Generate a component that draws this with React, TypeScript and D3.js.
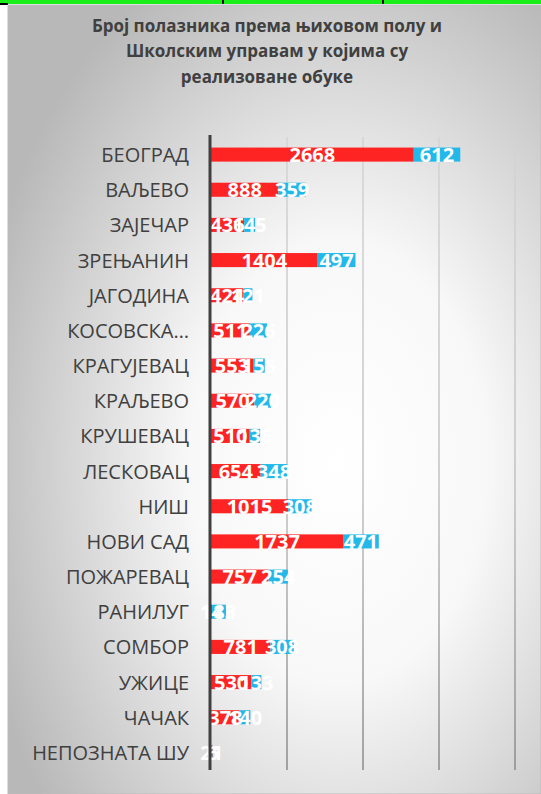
import * as d3 from "d3";

const titleLines = [
  "Број полазника према њиховом полу и",
  "Школским управам у којима су",
  "реализоване обуке",
];

const categories = [
  "БЕОГРАД",
  "ВАЉЕВО",
  "ЗАЈЕЧАР",
  "ЗРЕЊАНИН",
  "ЈАГОДИНА",
  "КОСОВСКА…",
  "КРАГУЈЕВАЦ",
  "КРАЉЕВО",
  "КРУШЕВАЦ",
  "ЛЕСКОВАЦ",
  "НИШ",
  "НОВИ САД",
  "ПОЖАРЕВАЦ",
  "РАНИЛУГ",
  "СОМБОР",
  "УЖИЦЕ",
  "ЧАЧАК",
  "НЕПОЗНАТА ШУ",
];

// red series (first segment) and blue series (second segment)
const redValues = [2668, 888, 436, 1404, 424, 511, 553, 570, 510, 654, 1015, 1737, 757, 14, 781, 530, 378, 21];
const blueValues = [612, 359, 145, 497, 121, 226, 155, 220, 136, 348, 308, 471, 254, 183, 308, 133, 140, 6];

const gridTicks = [1000, 2000, 3000, 4000];

const W = 541;
const H = 794;

export default function App() {
  const x = d3.scaleLinear().domain([0, 4000]).range([211, 515]);
  const y = d3
    .scaleBand<string>()
    .domain(categories)
    .range([137, 770])
    .paddingInner(0.6)
    .paddingOuter(0.3);
  const bw = y.bandwidth();

  const rows = categories.map((c, i) => ({
    cat: c,
    red: redValues[i],
    blue: blueValues[i],
  }));

  return (
    <div style={{ position: "fixed", left: 0, top: 0 }}>
      <svg width={W} height={H} style={{ display: "block" }}>
        <defs>
          <radialGradient id="bg" cx="0.62" cy="0.58" r="0.7">
            <stop offset="0%" stopColor="#ffffff" />
            <stop offset="40%" stopColor="#f8f8f8" />
            <stop offset="100%" stopColor="#b8b8b8" />
          </radialGradient>
          <linearGradient id="grid" gradientUnits="userSpaceOnUse" x1="0" y1="137" x2="0" y2="770">
            <stop offset="0%" stopColor="#d4d4d4" />
            <stop offset="55%" stopColor="#c2c2c2" />
            <stop offset="100%" stopColor="#8a8a8a" />
          </linearGradient>
        </defs>

        <rect x={0} y={0} width={W} height={H} fill="#ffffff" />
        {/* spreadsheet strip above the chart */}
        <rect x={0} y={0} width={W} height={4} fill="#19f019" />
        <rect x={0} y={3} width={8} height={2} fill="#000" />
        <rect x={222} y={0} width={2} height={4} fill="#000" />
        <rect x={382} y={0} width={2} height={4} fill="#000" />

        <rect x={8} y={5} width={W - 8} height={H - 5} fill="url(#bg)" stroke="#bcbcbc" strokeWidth={1} />

        {titleLines.map((t, i) => (
          <text
            key={i}
            x={267}
            y={25 + i * 25.5}
            textAnchor="middle"
            dominantBaseline="central"
            fontFamily="'Open Sans', sans-serif"
            fontWeight={700}
            fontSize={17}
            fill="#404040"
          >
            {t}
          </text>
        ))}

        {gridTicks.map((t) => (
          <line key={t} x1={x(t)} x2={x(t)} y1={137} y2={770} stroke="url(#grid)" strokeWidth={1.5} />
        ))}

        {rows.map((r) => {
          const yc = (y(r.cat) ?? 0) + bw / 2;
          const x0 = x(0);
          const x1 = x(r.red);
          const x2 = x(r.red + r.blue);
          return (
            <g key={r.cat}>
              <text
                x={189}
                y={yc}
                textAnchor="end"
                dominantBaseline="central"
                fontFamily="'Open Sans', sans-serif"
                fontSize={20}
                fill="#404040"
              >
                {r.cat}
              </text>
              <rect x={x0} y={y(r.cat)} width={x1 - x0} height={bw} fill="#ff2424" />
              <rect x={x1} y={y(r.cat)} width={x2 - x1} height={bw} fill="#22b9ea" />
              <text
                x={(x0 + x1) / 2}
                y={yc}
                textAnchor="middle"
                dominantBaseline="central"
                fontFamily="'Open Sans', sans-serif"
                fontWeight={700}
                fontSize={20}
                fill="#ffffff"
              >
                {r.red}
              </text>
              <text
                x={(x1 + x2) / 2}
                y={yc}
                textAnchor="middle"
                dominantBaseline="central"
                fontFamily="'Open Sans', sans-serif"
                fontWeight={700}
                fontSize={20}
                fill="#ffffff"
              >
                {r.blue}
              </text>
            </g>
          );
        })}

        <line x1={210} x2={210} y1={135} y2={770} stroke="#404040" strokeWidth={3} />
      </svg>
    </div>
  );
}
